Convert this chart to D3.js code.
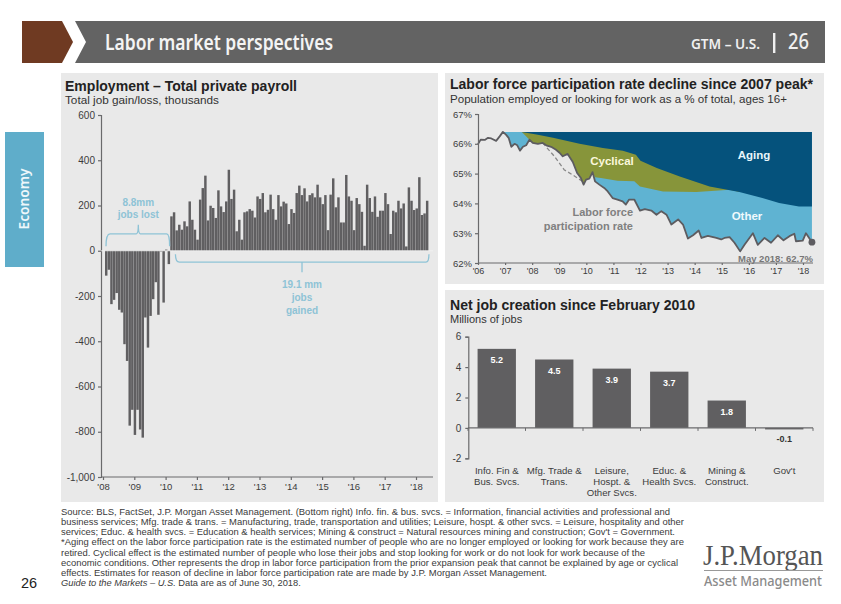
<!DOCTYPE html>
<html><head><meta charset="utf-8">
<script src="https://cdn.jsdelivr.net/npm/d3@7"></script>
<style>
html,body{margin:0;padding:0;background:#fff}
svg{display:block}
text{font-family:"Liberation Sans",Arial,sans-serif}
</style></head><body>
<svg id="c" width="841" height="604"></svg>
<script>
// ---------- data ----------
const payrollValues = [-110,-84,-236,-217,-187,-261,-273,-413,-487,-773,-703,-814,-703,-790,-826,-295,-428,-288,-214,-139,-283,-3,-229,5,-59,
152,170,90,115,93,130,108,218,137,93,49,226,277,332,134,199,189,145,267,196,171,218,358,229,270,86,137,49,170,174,184,
177,147,240,229,255,170,181,248,184,137,246,196,217,209,118,184,167,255,288,246,276,218,246,254,236,292,236,206,246,91,
248,320,192,236,125,125,335,240,221,91,233,206,172,22,292,233,172,240,150,177,177,255,206,74,177,170,221,187,209,19,
280,221,180,187,325,158,165,221];
const payrollTicksY = [600,400,200,0,-200,-400,-600,-800,-1000];
const payrollYears = [2008,2009,2010,2011,2012,2013,2014,2015,2016,2017,2018];

const lfprYears = [2006.00,2006.10,2006.25,2006.37,2006.49,2006.67,2006.80,2006.92,2007.04,2007.13,2007.23,2007.35,2007.45,2007.55,2007.66,2007.78,2007.90,
2008.02,2008.21,2008.39,2008.52,2008.70,2008.88,2009.01,2009.13,2009.31,2009.50,2009.66,2009.80,2009.90,2009.99,2010.11,2010.23,2010.32,2010.48,2010.66,2010.79,2010.97,
2011.15,2011.34,2011.46,2011.58,2011.77,2011.98,2012.16,2012.40,2012.59,2012.77,2012.96,2013.14,2013.39,2013.57,2013.75,2013.94,2014.15,2014.25,2014.49,2014.80,2014.98,
2015.10,2015.29,2015.47,2015.68,2015.84,2016.15,2016.33,2016.58,2016.82,2017.07,2017.28,2017.50,2017.68,2017.74,2017.99,2018.11,2018.33];
const lfprValues = [65.99,66.14,66.13,66.20,66.18,66.10,66.25,66.40,66.30,66.20,65.90,66.00,65.95,65.77,65.90,65.95,66.14,
66.03,66.00,66.03,65.95,65.90,65.80,65.70,65.58,65.66,65.39,65.02,64.85,64.63,64.80,64.83,65.05,64.74,64.63,64.52,64.40,64.18,
64.13,64.07,63.96,64.13,64.13,63.76,63.81,63.76,63.62,63.74,63.62,63.29,63.46,63.29,62.82,62.93,63.09,62.84,62.91,62.84,62.79,
62.84,62.87,62.68,62.39,62.61,63.00,62.61,62.84,62.68,62.93,62.76,62.90,62.98,62.73,62.75,63.00,62.70];
const peakLevel = 66.4;
const peakYear = 2006.92;
const cyclicalYears = [2006.92,2007.62,2007.90,2008.02,2008.21,2008.39,2008.52,2008.70,2008.88,2009.01,2009.13,2009.31,2009.50,2009.66,2009.80,2009.90,2009.99,2010.11,2010.23,2010.32,2010.54,2011.15,2011.77,2011.98,2012.83,2014.06,2015.29,2015.66];
const cyclicalBottom = [66.40,66.40,66.14,66.03,66.00,66.03,65.95,65.90,65.80,65.70,65.58,65.66,65.39,65.02,64.85,64.63,64.80,64.83,65.05,64.88,64.85,64.76,64.74,64.57,64.40,64.38,64.46,64.38];
const agingYears = [2007.60,2008.16,2008.77,2009.75,2010.61,2011.35,2011.83,2012.00,2012.60,2013.45,2014.55,2015.65,2016.50,2017.12,2017.85,2018.33];
const agingBottom = [66.40,66.31,66.20,66.00,65.86,65.77,65.63,65.43,65.19,64.90,64.57,64.38,64.18,64.01,63.90,63.90];
const trendYears = [2008.39,2008.82,2009.18,2009.49,2009.86];
const trendValues = [66.03,65.58,65.13,64.96,64.74];
const lfprTicksY = [67,66,65,64,63,62];
const lfprTickYears = [2006,2007,2008,2009,2010,2011,2012,2013,2014,2015,2016,2017,2018];

const sectors = [["Info. Fin &","Bus. Svcs."],["Mfg. Trade &","Trans."],["Leisure,","Hospt. &","Other Svcs."],["Educ. &","Health Svcs."],["Mining &","Construct."],["Gov't"]];
const jobsMillions = [5.2,4.5,3.9,3.7,1.8,-0.1];
const jobsTicksY = [6,4,2,0,-2];

const footnotes = [
"Source: BLS, FactSet, J.P. Morgan Asset Management. (Bottom right) Info. fin. & bus. svcs. = Information, financial activities and professional and",
"business services; Mfg. trade & trans. = Manufacturing, trade, transportation and utilities; Leisure, hospt. & other svcs. = Leisure, hospitality and other",
"services; Educ. & health svcs. = Education & health services; Mining & construct = Natural resources mining and construction; Gov't = Government.",
"*Aging effect on the labor force participation rate is the estimated number of people who are no longer employed or looking for work because they are",
"retired. Cyclical effect is the estimated number of people who lose their jobs and stop looking for work or do not look for work because of the",
"economic conditions. Other represents the drop in labor force participation from the prior expansion peak that cannot be explained by age or cyclical",
"effects. Estimates for reason of decline in labor force participation rate are made by J.P. Morgan Asset Management."];
const footnoteWidths = [609,623,614,623,584,617,486];

// ---------- helpers ----------
const svg = d3.select("#c");
const AX="#6a6a6c", BAR="#605f61", TXT="#3c3c3c", PANEL="#e9e9e9";
function txt(g,x,y,s,o={}){
  const t=g.append("text").attr("x",x).attr("y",y).text(s)
    .attr("font-size",o.size||10).attr("fill",o.fill||TXT)
    .attr("text-anchor",o.anchor||"start");
  if(o.weight)t.attr("font-weight",o.weight);
  if(o.family)t.style("font-family",o.family);
  if(o.len)t.attr("textLength",o.len).attr("lengthAdjust","spacingAndGlyphs");
  return t;
}
function styleAxis(g,fs){
  g.selectAll("path,line").attr("stroke",AX).attr("stroke-width",1.2);
  g.selectAll("text").attr("font-size",fs).attr("fill",TXT).style("font-family",'"Liberation Sans"');
}
const yr = d=>"'"+String(d).slice(2);
const hyphen = f => d => f(d).replace("\u2212","-");

// ---------- header ----------
const hdr=svg.append("g");
hdr.append("path").attr("d","M22,21H62L73,42L62,63H22Z").attr("fill","#6f3a22");
hdr.append("path").attr("d","M75,21H825V63H75L86,42Z").attr("fill","#636363");
const HF='"Noto Sans",sans-serif';
txt(hdr,105,50,"Labor market perspectives",{size:21,fill:"#f4f4f4",weight:600,family:HF,len:228});
txt(hdr,691,49,"GTM – U.S.",{size:15,fill:"#f0f0f0",weight:600,family:HF,len:69});
hdr.append("rect").attr("x",773).attr("y",33).attr("width",2.4).attr("height",20).attr("fill","#f0f0f0");
txt(hdr,788,49,"26",{size:21,fill:"#f0f0f0",weight:500,family:HF,len:21});

// sidebar
svg.append("rect").attr("x",5).attr("y",132).attr("width",39).attr("height",135).attr("fill","#5fadca");
txt(svg,0,0,"Economy",{size:15,fill:"#eef7fb",weight:600,family:HF,anchor:"middle",len:61}).attr("transform","translate(29,199) rotate(-90)");

// panels
[[61,73,377,429],[445,73,379,211],[445,290,379,212]].forEach(p=>
  svg.append("rect").attr("x",p[0]).attr("y",p[1]).attr("width",p[2]).attr("height",p[3]).attr("fill",PANEL));

// ---------- left: payroll ----------
const L=svg.append("g");
txt(L,65,91,"Employment – Total private payroll",{size:14,weight:700,fill:"#222",len:232});
txt(L,65,104,"Total job gain/loss, thousands",{size:11,fill:"#333",len:154});
const py=d3.scaleLinear().domain([-1000,600]).range([477,115]);
const pxYear=d3.scaleLinear().domain([2008,2018]).range([103,416]);
const pxBand=d3.scaleBand().domain(d3.range(payrollValues.length)).range([105,105+payrollValues.length*2.608]).paddingInner(0.06);
L.selectAll("rect.b").data(payrollValues).join("rect").attr("class","b")
  .attr("x",(d,i)=>pxBand(i)).attr("width",pxBand.bandwidth())
  .attr("y",d=>py(Math.max(0,d))).attr("height",d=>Math.abs(py(d)-py(0))).attr("fill",BAR);
L.append("g").attr("transform","translate(101,0)")
  .call(d3.axisLeft(py).tickValues(payrollTicksY).tickFormat(hyphen(d3.format(","))).tickSize(3).tickPadding(3))
  .call(g=>styleAxis(g,10));
L.append("g").attr("transform","translate(0,477)")
  .call(d3.axisBottom(pxYear).tickValues(payrollYears).tickFormat(yr).tickSize(3).tickPadding(3))
  .call(g=>styleAxis(g,9.5)).call(g=>g.select(".domain").remove());
L.append("line").attr("x1",101).attr("x2",433).attr("y1",477).attr("y2",477).attr("stroke",AX).attr("stroke-width",1.2);
L.append("line").attr("x1",101).attr("x2",433).attr("y1",py(0)).attr("y2",py(0)).attr("stroke","#f2f2f2").attr("stroke-width",.8);
const ANN="#8ec3d6";
const x0=pxBand(0), xLoss=pxBand(24)+2, xGain=pxBand(27), xEnd=pxBand(payrollValues.length-1)+3;
const midLoss=(x0+xLoss)/2+1, midGain=302;
L.append("path").attr("fill","none").attr("stroke",ANN).attr("stroke-width",1.3)
  .attr("d",`M${x0+1},${py(20)} Q${x0+1},${py(75)} ${x0+5},${py(75)} H${midLoss-2} Q${midLoss},${py(75)} ${midLoss},${py(115)} Q${midLoss},${py(75)} ${midLoss+2},${py(75)} H${xLoss-3} Q${xLoss},${py(75)} ${xLoss},${py(20)}`);
txt(L,midLoss,206,"8.8mm",{size:10,weight:700,fill:ANN,anchor:"middle"});
txt(L,midLoss,218,"jobs lost",{size:10,weight:700,fill:ANN,anchor:"middle"});
L.append("path").attr("fill","none").attr("stroke",ANN).attr("stroke-width",1.3)
  .attr("d",`M${xGain},${py(-15)} Q${xGain},${py(-50)} ${xGain+4},${py(-50)} H${xEnd-3} Q${xEnd},${py(-50)} ${xEnd},${py(-15)} M${midGain},${py(-50)} V${py(-95)}`);
["19.1 mm","jobs","gained"].forEach((s,i)=>txt(L,midGain,288+i*13,s,{size:10,weight:700,fill:ANN,anchor:"middle"}));

// ---------- right top: LFPR ----------
const R=svg.append("g");
txt(R,450,89,"Labor force participation rate decline since 2007 peak*",{size:14,weight:700,fill:"#222",len:363});
txt(R,450,103,"Population employed or looking for work as a % of total, ages 16+",{size:11,fill:"#333",len:337});
const ly=d3.scaleLinear().domain([62,67]).range([263,114]);
const lx=d3.scaleLinear().domain([2006,2018]).range([478,803]);
const lineData=lfprYears.map((y,i)=>({y,v:lfprValues[i]}));
function layer(years,vals,color){
  const a=d3.area().x(d=>lx(d[0])).y0(ly(peakLevel)).y1(d=>ly(d[1]));
  R.append("path").attr("d",a(years.map((y,i)=>[y,vals[i]]))).attr("fill",color);
}
const afterPeak=lineData.filter(d=>d.y>=peakYear);
layer(afterPeak.map(d=>d.y),afterPeak.map(d=>d.v),"#5fb3d2");
layer(cyclicalYears,cyclicalBottom,"#87953a");
layer(agingYears,agingBottom,"#05527c");
R.append("path").attr("fill","none").attr("stroke","#8a8a8a").attr("stroke-width",1.3).attr("stroke-dasharray","4,2.5")
  .attr("d",d3.line().x((d,i)=>lx(trendYears[i])).y(d=>ly(d))(trendValues));
R.append("path").attr("fill","none").attr("stroke","#5d5c60").attr("stroke-width",1.8).attr("stroke-linejoin","round")
  .attr("d",d3.line().x(d=>lx(d.y)).y(d=>ly(d.v))(lineData));
const lastPt=lineData[lineData.length-1];
R.append("circle").attr("cx",lx(lastPt.y)).attr("cy",ly(lastPt.v)).attr("r",3.4).attr("fill","#5d5c60");
R.append("g").attr("transform","translate(478,0)")
  .call(d3.axisLeft(ly).tickValues(lfprTicksY).tickFormat(d=>d+"%").tickSize(3).tickPadding(3))
  .call(g=>styleAxis(g,9.5));
R.append("g").attr("transform","translate(0,263)")
  .call(d3.axisBottom(lx).tickValues(lfprTickYears).tickFormat(yr).tickSize(2).tickPadding(3))
  .call(g=>styleAxis(g,9)).call(g=>g.select(".domain").remove());
R.append("line").attr("x1",478).attr("x2",813).attr("y1",263).attr("y2",263).attr("stroke",AX).attr("stroke-width",1.2);
txt(R,813,262,"May 2018: 62.7%",{size:9.5,weight:700,fill:"#777",anchor:"end"});
txt(R,612,165,"Cyclical",{size:11.5,weight:700,fill:"#fbf8dc",anchor:"middle"});
txt(R,754,159,"Aging",{size:11.5,weight:700,fill:"#e8f6fb",anchor:"middle"});
txt(R,747,220,"Other",{size:11.5,weight:700,fill:"#f0fafd",anchor:"middle"});
txt(R,633,215.5,"Labor force",{size:11,weight:700,fill:"#808080",anchor:"end"});
txt(R,633,230,"participation rate",{size:11,weight:700,fill:"#808080",anchor:"end"});

// ---------- right bottom: net jobs ----------
const B=svg.append("g");
txt(B,450,310,"Net job creation since February 2010",{size:14,weight:700,fill:"#222",len:245});
txt(B,450,323,"Millions of jobs",{size:11,fill:"#333"});
const by=d3.scaleLinear().domain([-2,6]).range([458.3,336.7]);
const bx=d3.scaleBand().domain(d3.range(jobsMillions.length)).range([468,813]).paddingInner(1/3).paddingOuter(1/6);
B.selectAll("rect.j").data(jobsMillions).join("rect").attr("class","j")
  .attr("x",(d,i)=>bx(i)).attr("width",bx.bandwidth())
  .attr("y",d=>by(Math.max(0,d))).attr("height",d=>Math.abs(by(d)-by(0))).attr("fill",BAR);
B.append("g").attr("transform","translate(468.3,0)")
  .call(d3.axisLeft(by).tickValues(jobsTicksY).tickFormat(hyphen(d3.format("d"))).tickSize(3).tickPadding(4))
  .call(g=>styleAxis(g,10));
const step=bx.step();
B.append("line").attr("x1",468).attr("x2",813).attr("y1",by(0)).attr("y2",by(0)).attr("stroke",AX).attr("stroke-width",1.2);
B.selectAll("line.t").data(d3.range(jobsMillions.length+1)).join("line").attr("class","t")
  .attr("x1",i=>468+i*step).attr("x2",i=>468+i*step).attr("y1",by(0)).attr("y2",by(0)+3)
  .attr("stroke",AX).attr("stroke-width",1);
jobsMillions.forEach((v,i)=>{
  const cx=bx(i)+bx.bandwidth()/2;
  const lab=hyphen(d3.format(".1f"))(v);
  if(v>=0) txt(B,cx,by(v)+14.5,lab,{size:9,weight:700,fill:"#fff",anchor:"middle"});
  else txt(B,cx,by(v)+12.5,lab,{size:9,weight:700,fill:"#333",anchor:"middle"});
  sectors[i].forEach((s,k)=>txt(B,cx,473.5+k*11,s,{size:9.6,fill:TXT,anchor:"middle"}));
});

// ---------- footer ----------
const F=svg.append("g");
footnotes.forEach((s,i)=>txt(F,61,515+i*10.15,s,{size:9.3,fill:"#3a3a3a",len:footnoteWidths[i]}));
const last=txt(F,61,586,"",{size:9.3,fill:"#3a3a3a"});
last.append("tspan").attr("font-style","italic").text("Guide to the Markets – U.S.");
last.append("tspan").text(" Data are as of June 30, 2018.");
txt(F,21,588,"26",{size:14.5,fill:"#222"});
const SF='"Liberation Serif",serif';
txt(F,703,565,"J.P.Morgan",{size:29,fill:"#555",family:SF,len:120});
F.append("line").attr("x1",704).attr("x2",823).attr("y1",570.5).attr("y2",570.5).attr("stroke","#999").attr("stroke-width",1.2);
txt(F,704,586,"Asset Management",{size:14,fill:"#8a8a8a",weight:500,family:HF,len:118});
</script>
</body></html>
